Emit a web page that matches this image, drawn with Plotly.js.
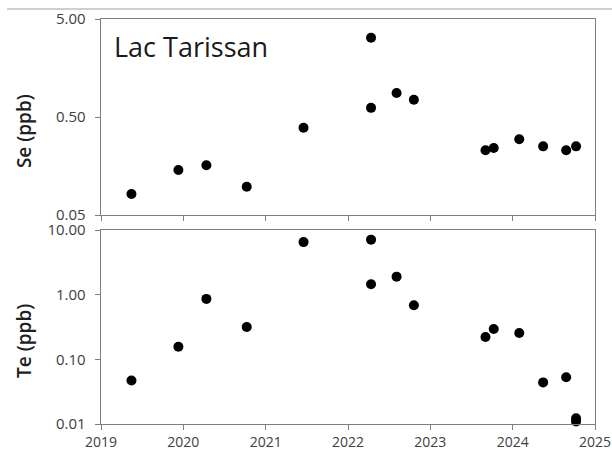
<!DOCTYPE html>
<html>
<head>
<meta charset="utf-8">
<script src="https://cdn.plot.ly/plotly-3.0.1.min.js"></script>
<style>
  html, body { margin: 0; padding: 0; background: #fff; }
  #chart { width: 612px; height: 451px; }
</style>
</head>
<body>
<div id="chart"></div>
<script>
// Sampling dates (decimal years) and concentrations, Lac Tarissan
const seDates = [2019.37, 2019.94, 2020.28, 2020.77, 2021.46, 2022.28, 2022.28,
                 2022.59, 2022.80, 2023.67, 2023.77, 2024.08, 2024.37, 2024.65, 2024.77];
const seValues = [0.082, 0.144, 0.161, 0.097, 0.389, 3.22, 0.62,
                  0.88, 0.75, 0.229, 0.241, 0.296, 0.251, 0.229, 0.251];

const teDates = [2019.37, 2019.94, 2020.28, 2020.77, 2021.46, 2022.28, 2022.28,
                 2022.59, 2022.80, 2023.67, 2023.77, 2024.08, 2024.37, 2024.65, 2024.77, 2024.77];
const teValues = [0.047, 0.157, 0.86, 0.316, 6.5, 7.1, 1.45,
                  1.9, 0.685, 0.221, 0.294, 0.255, 0.044, 0.053, 0.0123, 0.0109];

const yearTicks = [2019, 2020, 2021, 2022, 2023, 2024, 2025];
const seTickVals = [0.05, 0.5, 5];
const seTickText = ['0.05', '0.50', '5.00'];
const teTickVals = [0.01, 0.1, 1, 10];
const teTickText = ['0.01', '0.10', '1.00', '10.00'];

const FONT = 'Open Sans, sans-serif';
const AXIS_GREY = '#7f7f7f';
const TEXT_GREY = '#404040';

const marker = { color: '#000', size: 10, line: { width: 0 } };

const traces = [
  { x: seDates, y: seValues, xaxis: 'x2', yaxis: 'y2', type: 'scatter', mode: 'markers',
    marker: marker, cliponaxis: false, hoverinfo: 'x+y' },
  { x: teDates, y: teValues, xaxis: 'x', yaxis: 'y', type: 'scatter', mode: 'markers',
    marker: marker, cliponaxis: false, hoverinfo: 'x+y' }
];

const xCommon = {
  range: [2019, 2025], tickvals: yearTicks, ticks: 'outside', ticklen: 5,
  tickcolor: AXIS_GREY, showline: true, linecolor: AXIS_GREY, linewidth: 1.3,
  mirror: true, showgrid: false, zeroline: false,
  tickfont: { family: FONT, size: 14, color: TEXT_GREY }
};
const yCommon = {
  type: 'log', ticks: 'outside', ticklen: 5, tickcolor: AXIS_GREY,
  showline: true, linecolor: AXIS_GREY, linewidth: 1.3, mirror: true,
  showgrid: false, zeroline: false, ticklabelstandoff: 6,
  tickfont: { family: FONT, size: 15, color: TEXT_GREY }
};
const yTitleFont = { family: FONT, size: 19, color: '#202020', weight: 600 };

// axis titles sit a little below the panel centres, so they are placed as annotations
const layout = {
  width: 612, height: 451,
  margin: { l: 101, r: 17, t: 19, b: 27 },
  paper_bgcolor: '#fff', plot_bgcolor: '#fff',
  showlegend: false,
  xaxis: Object.assign({}, xCommon, { anchor: 'y', tickformat: 'd' }),
  yaxis: Object.assign({}, yCommon, {
    domain: [0, 0.479], range: [-2, 1], tickvals: teTickVals, ticktext: teTickText
  }),
  xaxis2: Object.assign({}, xCommon, { anchor: 'y2', showticklabels: false, matches: 'x' }),
  yaxis2: Object.assign({}, yCommon, {
    domain: [0.516, 1], range: [Math.log10(0.05), Math.log10(5)],
    tickvals: seTickVals, ticktext: seTickText
  }),
  annotations: [
    {
      text: 'Lac Tarissan', xref: 'paper', yref: 'paper', x: 0.022, y: 0.932,
      xanchor: 'left', yanchor: 'middle', showarrow: false,
      font: { family: FONT, size: 27, color: '#1a1a1a' }
    },
    {
      text: 'Se (ppb)', xref: 'paper', yref: 'paper', x: -0.156, y: 0.723,
      xanchor: 'center', yanchor: 'middle', textangle: -90, showarrow: false,
      font: yTitleFont
    },
    {
      text: 'Te (ppb)', xref: 'paper', yref: 'paper', x: -0.156, y: 0.205,
      xanchor: 'center', yanchor: 'middle', textangle: -90, showarrow: false,
      font: yTitleFont
    }
  ],
  shapes: [{
    type: 'line', xref: 'paper', yref: 'paper',
    x0: -0.19, x1: 1.04, y0: 1.0247, y1: 1.0247,
    line: { color: '#a0a0a0', width: 1.2 }
  }]
};

Plotly.newPlot('chart', traces, layout, { displayModeBar: false, staticPlot: true });
</script>
</body>
</html>
